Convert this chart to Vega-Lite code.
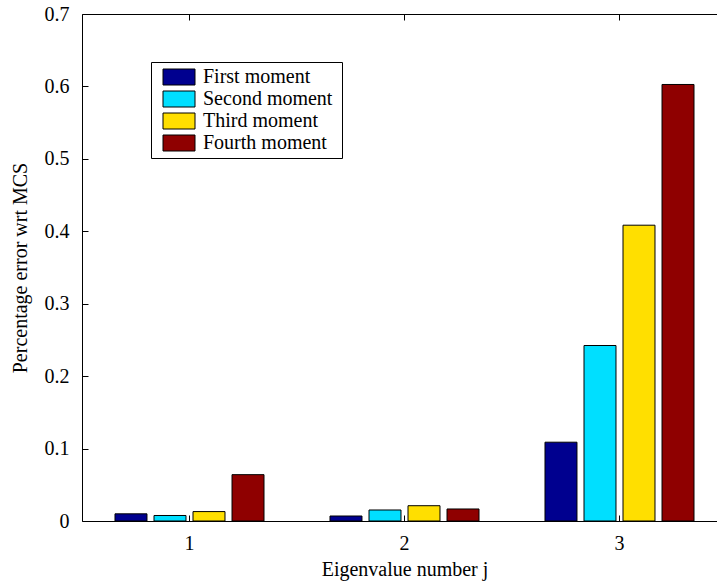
{
  "$schema": "https://vega.github.io/schema/vega-lite/v6.json",
  "width": 645,
  "height": 507,
  "autosize": {"type": "none"},
  "padding": {"left": 82, "top": 14, "right": 0, "bottom": 66},
  "background": "white",
  "data": {
    "values": [
      {"j": "1", "moment": "First moment", "error": 0.0099},
      {"j": "1", "moment": "Second moment", "error": 0.0076},
      {"j": "1", "moment": "Third moment", "error": 0.0130},
      {"j": "1", "moment": "Fourth moment", "error": 0.0640},
      {"j": "2", "moment": "First moment", "error": 0.0069},
      {"j": "2", "moment": "Second moment", "error": 0.0152},
      {"j": "2", "moment": "Third moment", "error": 0.0211},
      {"j": "2", "moment": "Fourth moment", "error": 0.0166},
      {"j": "3", "moment": "First moment", "error": 0.1088},
      {"j": "3", "moment": "Second moment", "error": 0.2423},
      {"j": "3", "moment": "Third moment", "error": 0.4084},
      {"j": "3", "moment": "Fourth moment", "error": 0.6027}
    ]
  },
  "layer": [
    {
      "mark": {"type": "bar", "stroke": "black", "strokeWidth": 1},
      "encoding": {
        "x": {
          "field": "j",
          "type": "nominal",
          "scale": {"paddingInner": 0, "paddingOuter": 0},
          "title": "Eigenvalue number j",
          "axis": {"orient": "bottom", "labelAngle": 0, "domain": false, "tickSize": -6, "labelPadding": 18, "titlePadding": 6}
        },
        "xOffset": {
          "field": "moment",
          "type": "nominal",
          "sort": ["First moment", "Second moment", "Third moment", "Fourth moment"],
          "scale": {"paddingInner": 0.18, "paddingOuter": 0.846}
        },
        "y": {
          "field": "error",
          "type": "quantitative",
          "scale": {"domain": [0, 0.7], "nice": false},
          "title": "Percentage error wrt MCS",
          "axis": {"values": [0, 0.1, 0.2, 0.3, 0.4, 0.5, 0.6, 0.7], "format": ".1~f", "domain": false, "grid": false, "tickSize": -6, "labelPadding": 19, "titlePadding": 14}
        },
        "color": {
          "field": "moment",
          "type": "nominal",
          "sort": ["First moment", "Second moment", "Third moment", "Fourth moment"],
          "scale": {
            "domain": ["First moment", "Second moment", "Third moment", "Fourth moment"],
            "range": ["#00008F", "#00DFFF", "#FFDF00", "#8F0000"]
          },
          "legend": {
            "orient": "none",
            "legendX": 69,
            "legendY": 48,
            "title": null,
            "strokeColor": "black",
            "fillColor": "white",
            "padding": 5,
            "symbolType": "M-2.65,0M19.5,0M-2,-1H2V1H-2Z",
            "symbolSize": 256,
            "symbolStrokeColor": "black",
            "symbolStrokeWidth": 1,
            "symbolOpacity": 1,
            "symbolOffset": 13,
            "labelOffset": 14,
            "labelFont": "'Liberation Serif', 'Times New Roman', serif",
            "labelFontSize": 20,
            "labelColor": "black",
            "rowPadding": 2
          }
        }
      }
    },
    {
      "mark": {"type": "tick", "opacity": 0},
      "encoding": {
        "x": {
          "field": "j",
          "type": "nominal",
          "axis": {"orient": "top", "labels": false, "domain": false, "tickSize": -6, "title": null}
        }
      }
    }
  ],
  "resolve": {"axis": {"x": "independent"}},
  "config": {
    "font": "'Liberation Serif', 'Times New Roman', serif",
    "view": {"stroke": "black", "strokeWidth": 1},
    "axis": {
      "labelFont": "'Liberation Serif', 'Times New Roman', serif",
      "titleFont": "'Liberation Serif', 'Times New Roman', serif",
      "labelFontSize": 20,
      "titleFontSize": 20,
      "titleFontWeight": "normal",
      "labelColor": "black",
      "titleColor": "black",
      "tickColor": "black",
      "tickWidth": 1
    },
    "legend": {"labelFont": "'Liberation Serif', 'Times New Roman', serif"}
  }
}
